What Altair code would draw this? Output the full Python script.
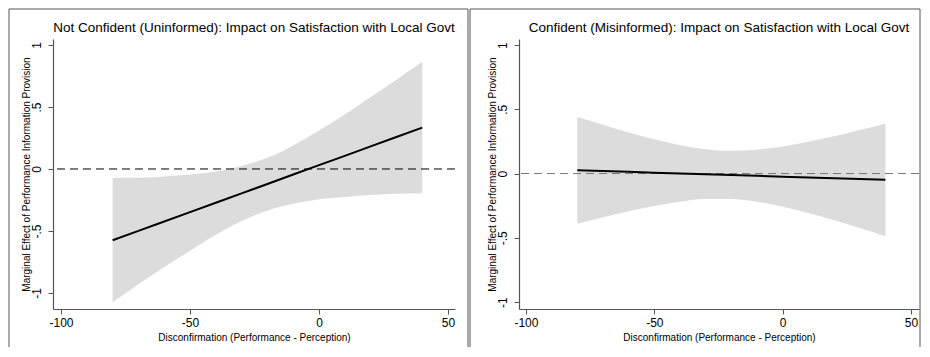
import altair as alt
import pandas as pd

# Disconfirmation values where the marginal effect is evaluated
disconf = [-80, -70, -60, -50, -40, -30, -20, -10, 0, 10, 20, 30, 40]

# Left panel: Not Confident (Uninformed)
effect_left = [-0.575, -0.499, -0.424, -0.348, -0.272, -0.197, -0.121, -0.045, 0.031, 0.106, 0.182, 0.258, 0.333]
upper_left = [-0.07, -0.07, -0.06, -0.045, -0.02, 0.025, 0.09, 0.19, 0.31, 0.44, 0.58, 0.72, 0.865]
lower_left = [-1.075, -0.93, -0.79, -0.66, -0.53, -0.42, -0.335, -0.28, -0.245, -0.225, -0.21, -0.20, -0.195]

# Right panel: Confident (Misinformed)
effect_right = [0.026, 0.020, 0.0135, 0.007, 0.001, -0.005, -0.0115, -0.018, -0.024, -0.030, -0.0365, -0.043, -0.049]
upper_right = [0.44, 0.38, 0.32, 0.266, 0.221, 0.19, 0.177, 0.185, 0.21, 0.247, 0.29, 0.338, 0.39]
lower_right = [-0.39, -0.34, -0.293, -0.252, -0.219, -0.199, -0.199, -0.22, -0.258, -0.307, -0.364, -0.424, -0.488]

titles = [
    "Not Confident (Uninformed): Impact on Satisfaction with Local Govt",
    "Confident (Misinformed): Impact on Satisfaction with Local Govt",
]
x_ticks = [-100, -50, 0, 50]
y_ticks = [-1, -0.5, 0, 0.5, 1]
x_title = "Disconfirmation (Performance - Perception)"
y_title = "Marginal Effect of Performance Information Provision"

FONT = "Liberation Sans"
H = 270


def panel(title, eff, lo, hi, xdom, ydom, width, zero_color, lrule, rrule):
    df = pd.DataFrame({"x": disconf, "eff": eff, "lo": lo, "hi": hi})
    one = pd.DataFrame({"k": [0]})
    xenc = alt.X(
        "x:Q",
        scale=alt.Scale(domain=xdom, nice=False, zero=False),
        axis=alt.Axis(
            values=x_ticks, title=x_title, grid=False,
            labelExpr="'' + datum.value", labelFlush=False,
            labelFont=FONT, labelFontSize=12, labelColor="black", labelPadding=3,
            titleFont=FONT, titleFontSize=10, titleFontWeight="normal", titleColor="black",
            titleX=width / 2, titleY=28, titleBaseline="middle", titleAlign="center",
            domainColor="#555", tickColor="#555", tickSize=5, domainWidth=1.2,
        ),
    )
    yenc = alt.Y(
        "lo:Q",
        scale=alt.Scale(domain=ydom, nice=False, zero=False),
        axis=alt.Axis(
            values=y_ticks, title=y_title, grid=False,
            labelExpr="datum.value == 0 ? '0' : replace('' + datum.value, '0.', '.')",
            labelFlush=False, labelAngle=270, labelAlign="center", labelBaseline="bottom",
            labelFont=FONT, labelFontSize=12, labelColor="black", labelPadding=5,
            titleFont=FONT, titleFontSize=10, titleFontWeight="normal", titleColor="black",
            titleX=-27, titleY=H / 2, titleAngle=270, titleBaseline="middle", titleAlign="center",
            domainColor="#555", tickColor="#555", tickSize=5, domainWidth=1.2,
        ),
    )
    band = alt.Chart(df).mark_area(color="#dcdcdc", interpolate="monotone").encode(
        x=xenc, y=yenc, y2="hi:Q"
    )
    zero = alt.Chart(one).mark_rule(color=zero_color, strokeDash=[8, 5], strokeWidth=1).encode(
        y=alt.datum(0)
    )
    line = alt.Chart(df).mark_line(color="black", strokeWidth=2).encode(
        x="x:Q", y="eff:Q"
    )
    head = alt.Chart(one).mark_text(
        font=FONT, fontSize=13.5, color="black", align="center", baseline="alphabetic"
    ).encode(x=alt.value(width / 2), y=alt.value(-7), text=alt.value(title))
    frame_top = alt.Chart(one).mark_rule(color="#555", strokeWidth=1).encode(
        x=alt.value(lrule), x2=alt.value(rrule), y=alt.value(-30)
    )
    frame_l = alt.Chart(one).mark_rule(color="#555", strokeWidth=1).encode(
        x=alt.value(lrule), y=alt.value(-30), y2=alt.value(308)
    )
    frame_r = alt.Chart(one).mark_rule(color="#555", strokeWidth=1).encode(
        x=alt.value(rrule), y=alt.value(-30), y2=alt.value(308)
    )
    return alt.layer(band, zero, line, head, frame_top, frame_l, frame_r).properties(
        width=width, height=H
    )


left = panel(titles[0], effect_left, lower_left, upper_left,
             [-103.1, 52.7], [-1.129, 1.048], 402, "black", -44, 415)
right = panel(titles[1], effect_right, lower_right, upper_right,
              [-102.7, 53.1], [-1.054, 1.047], 400, "#777", -49, 401)

chart = alt.hconcat(left, right, spacing=0).properties(
    padding={"left": 0, "top": 0, "right": 0, "bottom": 0},
    background="white",
).configure_view(stroke=None)

chart.save("out.html", embed_options={"renderer": "svg", "actions": False})
